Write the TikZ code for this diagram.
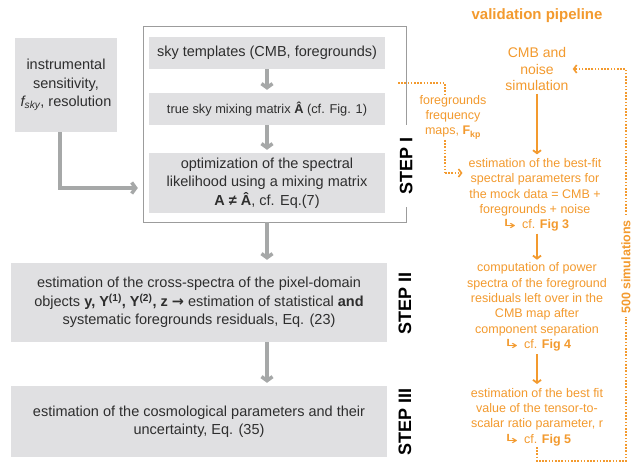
\documentclass[tikz,border=0pt]{standalone}
\usepackage{fontspec}
\setmainfont{Liberation Sans}
\newfontfamily\hookfont{DejaVu Sans}
\usetikzlibrary{arrows.meta}

\definecolor{boxgray}{HTML}{E0E0E2}
\definecolor{arrowgray}{HTML}{A6A8A8}
\definecolor{framegray}{HTML}{9C9C9C}
\definecolor{textgray}{HTML}{2E2E2E}
\definecolor{valorange}{HTML}{F39A2E}

\newcommand{\seefig}{\scalebox{1.7}[1]{\hookfont ↳}}

\tikzset{
  graybox/.style={fill=boxgray, text=textgray, align=center, inner sep=0pt,
    font=\fontsize{14.5}{18.5}\selectfont},
  grayarrow/.style={draw=arrowgray, line width=3.5pt,
    -{Straight Barb[length=4pt,width=11pt]}},
  steplabel/.style={rotate=90, fill=white, inner xsep=12pt, inner ysep=2pt,
    font=\bfseries\fontsize{18}{18}\selectfont},
  valtext/.style={text=valorange, align=center, inner sep=1pt,
    font=\fontsize{12.5}{15.3}\selectfont},
  valarrow/.style={draw=valorange, line width=1.8pt,
    -{Straight Barb[length=3pt,width=8pt]}},
  valdots/.style={draw=valorange, line width=1.6pt, dash pattern=on 1.6pt off 1.6pt}
}

\begin{document}
\begin{tikzpicture}[x=1pt,y=-1pt]
  \useasboundingbox[fill=white] (0,0) rectangle (638,464);

  % step I block
  \node (frame) at (275,124.5) [minimum width=262pt, minimum height=195pt] {};
  \draw[framegray, line width=1.2pt] (frame.north west) rectangle (frame.south east);

  \node (instr) at (66,85) [graybox, minimum width=102pt, minimum height=94pt]
    {instrumental\\sensitivity,\\\textit{f\textsubscript{sky}}, resolution};
  \node (sky) at (267,53) [graybox, minimum width=236pt, minimum height=32pt]
    {sky templates (CMB, foregrounds)};
  \node (mix) at (267,109) [graybox, minimum width=236pt, minimum height=32pt,
    font=\fontsize{12.8}{16}\selectfont]
    {true sky mixing matrix \textbf{Â} (cf. Fig. 1)};
  \node (optim) at (267,183) [graybox, minimum width=236pt, minimum height=60pt]
    {optimization of the spectral\\likelihood using a mixing matrix\\\textbf{A ≠ Â}, cf. Eq.(7)};

  % steps II and III
  \node (cross) at (199,302.5) [graybox, minimum width=376pt, minimum height=79pt]
    {estimation of the cross-spectra of the pixel-domain\\
     objects \textbf{y, Y\textsuperscript{(1)}, Y\textsuperscript{(2)}, z {\hookfont →}} estimation of statistical \textbf{and}\\
     systematic foregrounds residuals, Eq. (23)};
  \node (cosmo) at (199,421.5) [graybox, minimum width=376pt, minimum height=71pt]
    {estimation of the cosmological parameters and their\\uncertainty, Eq. (35)};

  \node (step1) at (frame.east |- 0,166) [steplabel] {STEP I};
  \node (step2) at (405,303) [steplabel] {STEP II};
  \node (step3) at (405,422) [steplabel] {STEP III};

  \coordinate (entry) at (frame.west |- 0,188);
  \draw[grayarrow, shorten >=6pt] ([xshift=-6pt]instr.south) |- (entry);
  \draw[grayarrow, shorten >=3pt] (sky) -- (mix);
  \draw[grayarrow, shorten >=3pt] (mix) -- (optim);
  \draw[grayarrow, shorten >=3pt] (frame.south -| sky.south) -- (cross.north -| sky.south);
  \draw[grayarrow, shorten >=3pt] (cross.south -| sky.south) -- (cosmo.north -| sky.south);

  % validation pipeline
  \node (valtitle) at (537,16) [valtext, font=\bfseries\fontsize{15}{15}\selectfont]
    {validation pipeline};
  \node (sim) at (537,69) [valtext, font=\fontsize{14}{16.5}\selectfont]
    {CMB and\\noise\\simulation};
  \node (fgmaps) at (453,117) [valtext] {foregrounds\\frequency\\maps, \textbf{F\textsubscript{kp}}};
  \node (fit) at (535,195) [valtext]
    {estimation of the best-fit\\spectral parameters for\\the mock data = CMB +\\foregrounds + noise\\
     \seefig{} cf. \textbf{Fig 3}};
  \node (power) at (537,307) [valtext]
    {computation of power\\spectra of the foreground\\residuals left over in the\\CMB map after\\
     component separation\\\seefig{} cf. \textbf{Fig 4}};
  \node (ratio) at (537,417) [valtext]
    {estimation of the best fit\\value of the tensor-to-\\scalar ratio parameter, r\\
     \seefig{} cf. \textbf{Fig 5}};

  \draw[valarrow, shorten <=2pt, shorten >=3pt] (sim) -- (fit.north -| sim.south);
  \draw[valarrow, shorten <=1pt, shorten >=2pt] (fit.south -| power.north) -- (power);
  \draw[valarrow, shorten <=2pt, shorten >=3pt] (power) -- (ratio.north -| power.south);

  % foreground maps feed
  \coordinate (fgstart) at (398,83);
  \draw[valdots] (fgstart) -| ([xshift=-8pt]fgmaps.north);
  \coordinate (fgturn) at ([xshift=-8pt]fgmaps.south |- 0,173);
  \draw[valdots] ([xshift=-8pt]fgmaps.south) -- (fgturn);
  \draw[valdots, -{Straight Barb[length=3pt,width=8pt]}, shorten >=5pt] (fgturn) -- (fit.west |- fgturn);

  % loop over simulations
  \coordinate (loopcorner) at (626,461);
  \draw[valdots, -{Straight Barb[length=3pt,width=8pt]}, shorten >=3pt]
    (ratio.south) |- (loopcorner) |- (sim.east);
  \node (nsim) at (626,267) [rotate=90, fill=white, text=valorange, inner xsep=3pt, inner ysep=1pt,
    font=\bfseries\fontsize{12.5}{12.5}\selectfont] {500 simulations};
\end{tikzpicture}
\end{document}
